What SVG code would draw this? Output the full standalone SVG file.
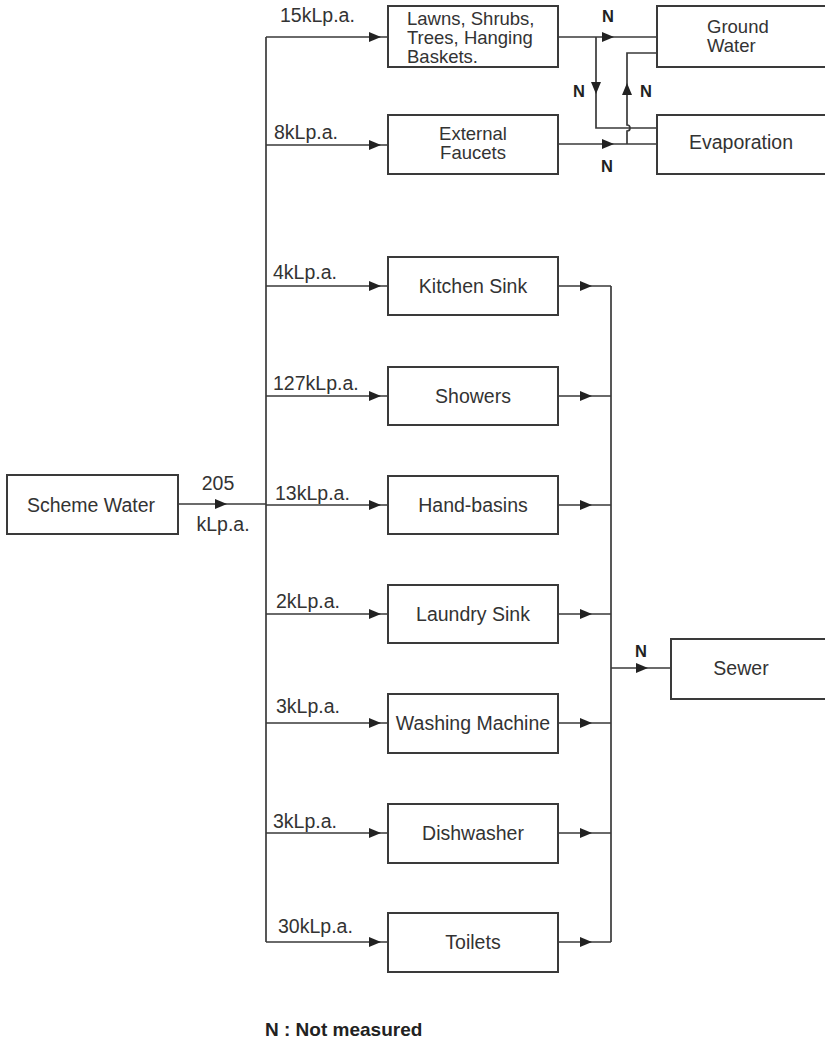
<svg xmlns="http://www.w3.org/2000/svg" width="825" height="1042" viewBox="0 0 825 1042">
<style>
  .box{fill:#fff;stroke:#3a3a3a;stroke-width:2}
  .ln{fill:none;stroke:#3a3a3a;stroke-width:1.7}
  .t{font-family:"Liberation Sans",Arial,sans-serif;font-size:19.5px;fill:#333}
  .m{font-size:18.5px}
  .c{text-anchor:middle}
  .lb{font-family:"Liberation Sans",Arial,sans-serif;font-size:19.5px;fill:#333}
  .n{font-family:"Liberation Sans",Arial,sans-serif;font-size:16.5px;font-weight:bold;fill:#222;text-anchor:middle}
  .ah{fill:#222}
</style>
<defs>
  <path id="ar" d="M0,0 L-12,-5 L-12,5 Z"/>
</defs>
<rect width="825" height="1042" fill="#fff"/>

<g id="connectors">
  <path class="ln" d="M178,504 H266"/>
  <path class="ln" d="M266,37 V942"/>
  <path class="ln" d="M266,37 H388 M266,145 H388 M266,286 H388 M266,396 H388 M266,505 H388 M266,614 H388 M266,723 H388 M266,833 H388 M266,942 H388"/>
  <path class="ln" d="M558,286 H611 M558,396 H611 M558,505 H611 M558,614 H611 M558,723 H611 M558,833 H611 M558,942 H611"/>
  <path class="ln" d="M611,286 V942"/>
  <path class="ln" d="M611,668 H671"/>
  <path class="ln" d="M558,37 H657"/>
  <path class="ln" d="M596,37 V128 H657"/>
  <path class="ln" d="M558,144 H657"/>
  <path class="ln" d="M627,144 V131 A3,3 0 0 0 627,125 V53 H657"/>
  <g class="ah">
    <use href="#ar" transform="translate(227,504)"/>
    <use href="#ar" transform="translate(381,37)"/>
    <use href="#ar" transform="translate(381,145)"/>
    <use href="#ar" transform="translate(381,286)"/>
    <use href="#ar" transform="translate(381,396)"/>
    <use href="#ar" transform="translate(381,505)"/>
    <use href="#ar" transform="translate(381,614)"/>
    <use href="#ar" transform="translate(381,723)"/>
    <use href="#ar" transform="translate(381,833)"/>
    <use href="#ar" transform="translate(381,942)"/>
    <use href="#ar" transform="translate(592,286)"/>
    <use href="#ar" transform="translate(592,396)"/>
    <use href="#ar" transform="translate(592,505)"/>
    <use href="#ar" transform="translate(592,614)"/>
    <use href="#ar" transform="translate(592,723)"/>
    <use href="#ar" transform="translate(592,833)"/>
    <use href="#ar" transform="translate(592,942)"/>
    <use href="#ar" transform="translate(648,668)"/>
    <use href="#ar" transform="translate(614,37)"/>
    <use href="#ar" transform="translate(614,144)"/>
    <use href="#ar" transform="translate(596,94) rotate(90)"/>
    <use href="#ar" transform="translate(627,83) rotate(-90)"/>
  </g>
  <text class="lb" x="218" y="490" text-anchor="middle">205</text>
  <text class="lb" x="223" y="531" text-anchor="middle">kLp.a.</text>
  <text class="lb" x="280" y="22">15kLp.a.</text>
  <text class="lb" x="274" y="139">8kLp.a.</text>
  <text class="lb" x="273" y="279">4kLp.a.</text>
  <text class="lb" x="273" y="390">127kLp.a.</text>
  <text class="lb" x="275" y="500">13kLp.a.</text>
  <text class="lb" x="276" y="608">2kLp.a.</text>
  <text class="lb" x="276" y="713">3kLp.a.</text>
  <text class="lb" x="273" y="828">3kLp.a.</text>
  <text class="lb" x="278" y="933">30kLp.a.</text>
  <text class="n" x="608" y="22">N</text>
  <text class="n" x="579" y="97">N</text>
  <text class="n" x="646" y="97">N</text>
  <text class="n" x="607" y="172">N</text>
  <text class="n" x="641" y="657">N</text>
</g>

<g id="scheme-water">
  <rect class="box" x="7" y="475" width="171" height="59"/>
  <text class="t c" x="91" y="512">Scheme Water</text>
</g>
<g id="lawns">
  <rect class="box" x="388" y="6" width="170" height="61"/>
  <text class="t m" x="407" y="25">Lawns, Shrubs,</text>
  <text class="t m" x="407" y="44">Trees, Hanging</text>
  <text class="t m" x="407" y="63">Baskets.</text>
</g>
<g id="external-faucets">
  <rect class="box" x="388" y="115" width="170" height="59"/>
  <text class="t m c" x="473" y="140">External</text>
  <text class="t m c" x="473" y="159">Faucets</text>
</g>
<g id="ground-water">
  <rect class="box" x="657" y="6" width="180" height="61"/>
  <text class="t m" x="707" y="33">Ground</text>
  <text class="t m" x="707" y="52">Water</text>
</g>
<g id="evaporation">
  <rect class="box" x="657" y="115" width="180" height="59"/>
  <text class="t c" x="741" y="149">Evaporation</text>
</g>
<g id="kitchen-sink">
  <rect class="box" x="388" y="257" width="170" height="58"/>
  <text class="t c" x="473" y="293">Kitchen Sink</text>
</g>
<g id="showers">
  <rect class="box" x="388" y="367" width="170" height="58"/>
  <text class="t c" x="473" y="403">Showers</text>
</g>
<g id="hand-basins">
  <rect class="box" x="388" y="476" width="170" height="58"/>
  <text class="t c" x="473" y="512">Hand-basins</text>
</g>
<g id="laundry-sink">
  <rect class="box" x="388" y="585" width="170" height="58"/>
  <text class="t c" x="473" y="621">Laundry Sink</text>
</g>
<g id="washing-machine">
  <rect class="box" x="388" y="694" width="170" height="59"/>
  <text class="t c" x="473" y="730">Washing Machine</text>
</g>
<g id="dishwasher">
  <rect class="box" x="388" y="804" width="170" height="59"/>
  <text class="t c" x="473" y="840">Dishwasher</text>
</g>
<g id="toilets">
  <rect class="box" x="388" y="913" width="170" height="59"/>
  <text class="t c" x="473" y="949">Toilets</text>
</g>
<g id="sewer">
  <rect class="box" x="671" y="639" width="170" height="60"/>
  <text class="t c" x="741" y="675">Sewer</text>
</g>
<g id="legend">
  <text x="265" y="1036" style="font-family:'Liberation Sans',Arial,sans-serif;font-size:19px;font-weight:bold;fill:#222">N : Not measured</text>
</g>
</svg>
